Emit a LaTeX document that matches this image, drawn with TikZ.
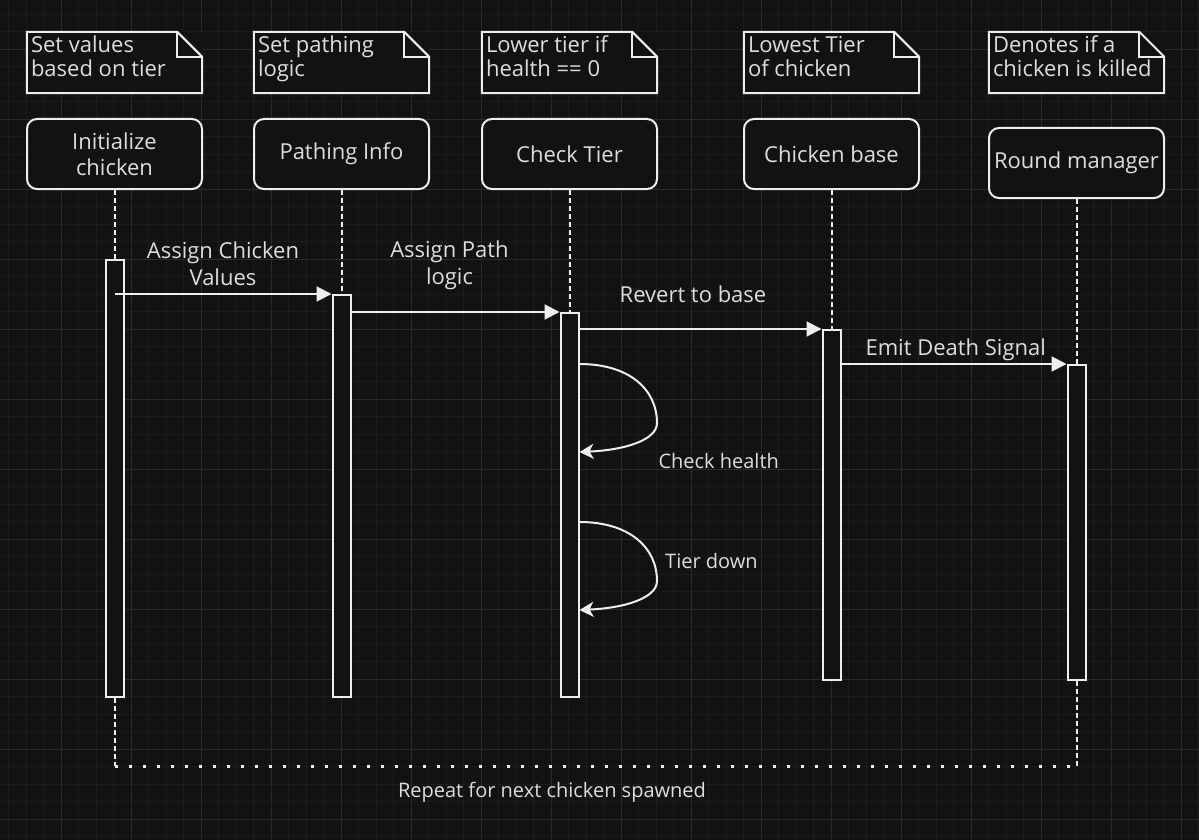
\documentclass[tikz,border=0pt]{standalone}
\usepackage{fontspec}
\setmainfont{Open Sans}
\usetikzlibrary{arrows.meta}
\definecolor{bg}{HTML}{121212}
\definecolor{gminor}{HTML}{1C1C1C}
\definecolor{gmajor}{HTML}{2A2A2A}
\definecolor{fg}{HTML}{EEEEEE}
\definecolor{tx}{HTML}{DDDDDD}
\begin{document}
\begin{tikzpicture}[x=1pt,y=-1pt,
  lifebox/.style={draw=fg, fill=bg, rounded corners=10pt, minimum width=175pt, minimum height=70pt, inner sep=0pt, align=center, text=tx, font=\fontsize{22}{25.7}\selectfont, line width=2pt},
  notebox/.style={fill=bg, minimum width=175pt, minimum height=61pt, inner sep=0pt},
  noteline/.style={draw=fg, line width=2pt, line join=miter},
  notetext/.style={anchor=base west, inner sep=0pt, align=left, text=tx, font=\fontsize{22}{24}\selectfont},
  actbar/.style={draw=fg, fill=bg, minimum width=18pt, inner sep=0pt, anchor=north, line width=2pt},
  lifeline/.style={draw=fg, line width=2pt, dash pattern=on 5pt off 3pt},
  dotline/.style={draw=fg, line width=3pt, dash pattern=on 3pt off 11pt},
  msg/.style={draw=fg, line width=2pt, -{Triangle[length=15pt,width=15pt]}},
  selfmsg/.style={draw=fg, line width=2pt, -{Stealth[length=14pt,width=15pt,inset=4pt]}},
  msglabel/.style={anchor=base, text=tx, align=center, inner sep=0pt, font=\fontsize{22}{26.7}\selectfont},
  selflabel/.style={anchor=base west, text=tx, inner sep=0pt, font=\fontsize{20}{24}\selectfont}
]
\useasboundingbox (0,0) rectangle (1199,840);
\fill[bg] (0,0) rectangle (1199,840);
% grid
\foreach \i in {0,...,68} \draw[gminor, line width=1pt] ({8.8+17.5*\i},0) -- ({8.8+17.5*\i},840);
\foreach \j in {0,...,47} \draw[gminor, line width=1pt] (0,{14.3+17.5*\j}) -- (1199,{14.3+17.5*\j});
\foreach \i in {0,...,16} \draw[gmajor, line width=1pt] ({61.3+70*\i},0) -- ({61.3+70*\i},840);
\foreach \j in {0,...,11} \draw[gmajor, line width=1pt] (0,{49.3+70*\j}) -- (1199,{49.3+70*\j});

% notes
\foreach \n/\x in {N1/114.5, N2/341.5, N3/569.5, N4/831.5, N5/1076.5} {
  \node[notebox] (\n) at (\x,62.5) {};
  \draw[noteline] (\n.north west) -- ([xshift=-25pt]\n.north east) -- ([yshift=-25pt]\n.north east) -- (\n.south east) -- (\n.south west) -- cycle;
  \draw[noteline] ([xshift=-25pt]\n.north east) -- ([xshift=-25pt,yshift=-25pt]\n.north east) -- ([yshift=-25pt]\n.north east);
}
\node[notetext] (T1) at ([xshift=4pt,yshift=-44.7pt]N1.north west) {Set values\\based on tier};
\node[notetext] (T2) at ([xshift=4pt,yshift=-44.7pt]N2.north west) {Set pathing\\logic};
\node[notetext] (T3) at ([xshift=4pt,yshift=-44.7pt]N3.north west) {Lower tier if\\health == 0};
\node[notetext] (T4) at ([xshift=4pt,yshift=-44.7pt]N4.north west) {Lowest Tier\\of chicken};
\node[notetext] (T5) at ([xshift=4pt,yshift=-44.7pt]N5.north west) {Denotes if a\\chicken is killed};

% lifeline heads
\node[lifebox] (L1) at (114.5,154) {Initialize\\chicken};
\node[lifebox] (L2) at (341.5,154) {Pathing Info};
\node[lifebox] (L3) at (569.5,154) {Check Tier};
\node[lifebox] (L4) at (831.5,154) {Chicken base};
\node[lifebox] (L5) at (1076.5,163) {Round manager};

% activation bars
\node[actbar, minimum height=437pt] (A1) at (114.5,259) {};
\node[actbar, minimum height=402pt] (A2) at (341.5,294) {};
\node[actbar, minimum height=384pt] (A3) at (569.5,312) {};
\node[actbar, minimum height=350pt] (A4) at (831.5,329) {};
\node[actbar, minimum height=315pt] (A5) at (1076.5,364) {};

% lifelines
\draw[lifeline] (L1.south) -- (A1.north);
\draw[lifeline] (L2.south) -- (A2.north);
\draw[lifeline] (L3.south) -- (A3.north);
\draw[lifeline] (L4.south) -- (A4.north);
\draw[lifeline] (L5.south) -- (A5.north);

% repeat loop
\coordinate (R1) at (114.5,766);
\coordinate (R2) at (1076.5,766);
\draw[lifeline] (A1.south) -- (R1);
\draw[lifeline] (A5.south) -- (R2);
\draw[dotline] (R1) -- (R2);
\node[selflabel, anchor=base] (RT) at (552,797) {Repeat for next chicken spawned};

% messages
\draw[msg] (A1 |- A2.north west) -- (A2.north west);
\draw[msg] (A2.east |- A3.north west) -- (A3.north west);
\draw[msg] (A3.east |- A4.north west) -- (A4.north west);
\draw[msg] (A4.east |- A5.north west) -- (A5.north west);
\node[msglabel] (M1) at (223,285) {Assign Chicken\\Values};
\node[msglabel] (M2) at (449.5,284.3) {Assign Path\\logic};
\node[msglabel] (M3) at (693,302.7) {Revert to base};
\node[msglabel] (M4) at (955.7,355.7) {Emit Death Signal};

% self messages
\draw[selfmsg] (A3.east |- 0,364) .. controls (630,364) and (657,390) .. (657,423) .. controls (657,440) and (625,450) .. (A3.east |- 0,452);
\draw[selfmsg] (A3.east |- 0,522) .. controls (630,522) and (657,548) .. (657,581) .. controls (657,598) and (625,608) .. (A3.east |- 0,610);
\node[selflabel] (S1) at (658.3,468.3) {Check health};
\node[selflabel] (S2) at (665,568.7) {Tier down};
\end{tikzpicture}
\end{document}
